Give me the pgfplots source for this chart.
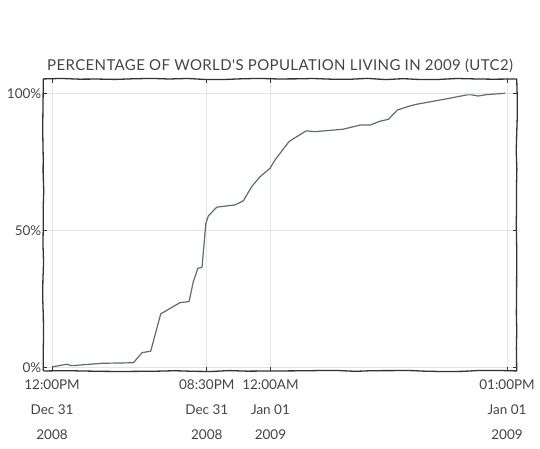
\documentclass[border=0pt]{standalone}
\usepackage{fontspec}
\setmainfont{Lato}
\newfontfamily\titlefont[LetterSpace=2.5]{Lato}
\usepackage{pgfplots}
\pgfplotsset{compat=1.18}
\usetikzlibrary{decorations.pathmorphing}
\definecolor{textc}{HTML}{444444}
\definecolor{linec}{HTML}{5C6B7A}
\definecolor{framec}{HTML}{333333}
\definecolor{gridc}{HTML}{E2E4E8}
\begin{document}
\begin{tikzpicture}
\pgfmathsetseed{7}
\begin{axis}[
  scale only axis,
  width=473.4pt, height=292pt,
  xmin=-0.48, xmax=25.53, ymin=-1.2, ymax=105.2,
  xtick={0,8.5,12,25},
  xticklabels={{12:00PM\\Dec 31\\2008},{08:30PM\\Dec 31\\2008},{12:00AM\\Jan 01\\2009},{01:00PM\\Jan 01\\2009}},
  xticklabel style={align=center, font=\fontsize{13.5}{25}\selectfont, text=textc, yshift=-5pt},
  ytick={0,50,100},
  yticklabels={0\%,50\%,100\%},
  yticklabel style={font=\fontsize{13.5}{16}\selectfont, text=textc, xshift=1.5pt},
  grid=major,
  grid style={draw=gridc, line width=0.7pt},
  major tick length=4pt,
  tick style={draw=framec, line width=0.8pt},
  axis line style={draw=framec, line width=1.3pt, line join=round,
    decorate, decoration={random steps, segment length=18pt, amplitude=0.6pt}},
  title={PERCENTAGE OF WORLD'S POPULATION LIVING IN 2009 (UTC2)},
  title style={font=\titlefont\fontsize{15}{17}\selectfont, text=textc, yshift=-3pt},
]
\addplot[draw=linec, line width=1.2pt, line join=round, mark=none] coordinates {
(0,0.3) (0.81,1.24) (1.08,0.73) (2.73,1.6) (4.47,1.8) (4.95,5.5) (5.42,6.0)
(5.97,19.6) (7.03,23.7) (7.53,24.1) (7.76,31.3) (8.01,36.2) (8.24,36.6)
(8.45,52.6) (8.59,55.3) (9.05,58.5) (10.05,59.3) (10.51,60.8) (10.97,66.0)
(11.43,69.6) (11.98,72.7) (12.25,75.7) (13.02,82.4) (13.45,84.2) (13.96,86.3)
(14.45,86.0) (16.0,86.9) (16.55,87.8) (16.92,88.4) (17.47,88.4) (18.02,89.8)
(18.48,90.5) (18.97,93.9) (19.67,95.4) (20.04,96.0) (21.87,98.2) (22.79,99.4)
(23.06,99.4) (23.42,99.0) (23.88,99.5) (24.89,100)
};
\coordinate (bbl) at (rel axis cs:-0.0915,-0.267);
\coordinate (btr) at (rel axis cs:1.0492,1.2705);
\end{axis}
\path (bbl) rectangle (btr);
\end{tikzpicture}
\end{document}
